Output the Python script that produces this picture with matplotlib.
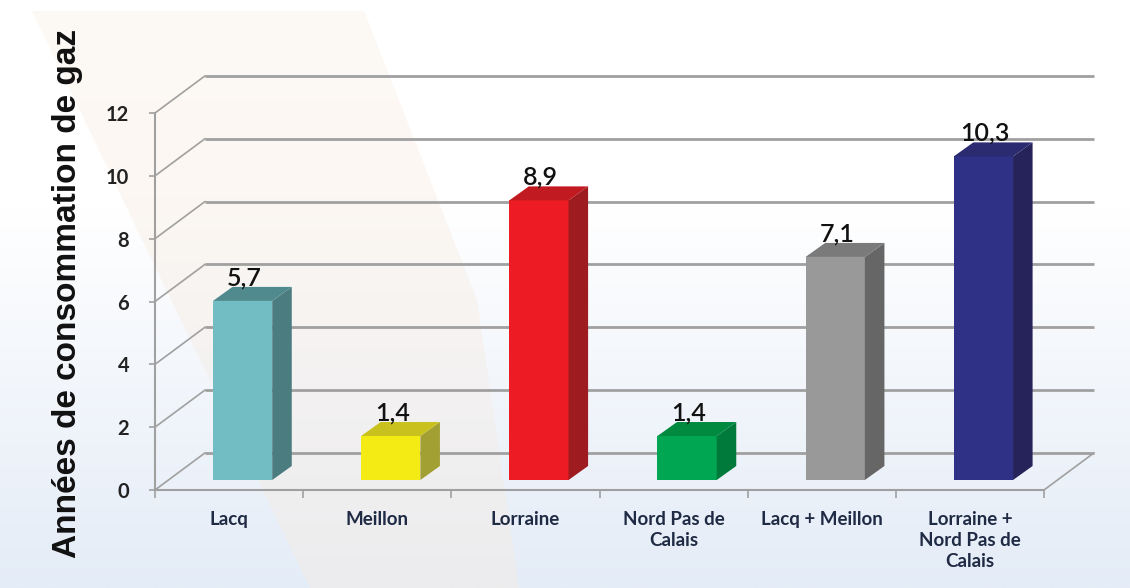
import numpy as np
import matplotlib
matplotlib.use("Agg")
import matplotlib.pyplot as plt
from matplotlib.patches import Polygon
from matplotlib.colors import LinearSegmentedColormap

# data
categories = ["Lacq", "Meillon", "Lorraine", "Nord Pas de\nCalais",
              "Lacq + Meillon", "Lorraine +\nNord Pas de\nCalais"]
values = [5.7, 1.4, 8.9, 1.4, 7.1, 10.3]
value_labels = ["5,7", "1,4", "8,9", "1,4", "7,1", "10,3"]
yticks = [0, 2, 4, 6, 8, 10, 12]

front_cols = ["#72bcc4", "#f5eb14", "#ed1c24", "#00a651", "#999999", "#2e3185"]
side_cols = ["#4a7c80", "#a3a033", "#9e1b20", "#007a3a", "#666666", "#25235a"]
top_cols = ["#508a8e", "#c9c21e", "#c21a21", "#008a40", "#7a7a7a", "#2b2b72"]

# fake 3d geometry (data units)
DX, DY = 0.337, 1.18        # full wall depth
fdx, fdy = 0.091, 0.318     # bar front face offset
bdx, bdy = 0.132, 0.446     # bar depth
bw = 0.4
grid_c = "#a0a0a0"

fig = plt.figure(figsize=(11.3, 5.88), dpi=100)

# background
bg = fig.add_axes([0, 0, 1, 1], zorder=0)
bg.set_xlim(0, 1130)
bg.set_ylim(588, 0)
bg.axis("off")
grad = np.linspace(0, 1, 300)[:, None]
grad = np.clip((grad - 0.35) / 0.65, 0, 1)
cm_bg = LinearSegmentedColormap.from_list("bg", ["#ffffff", "#e4ecf7"])
bg.imshow(grad, cmap=cm_bg, extent=[0, 1130, 588, 0], aspect="auto")
band = Polygon([(32, 11), (364, 11), (477, 300), (519, 588), (310, 588)],
               closed=True, facecolor="none", edgecolor="none")
bg.add_patch(band)
cm_band = LinearSegmentedColormap.from_list("band", ["#fdf9f4", "#fcf7f2", "#f3f1f1", "#ececee"])
im = bg.imshow(np.linspace(0, 1, 300)[:, None], cmap=cm_band,
               extent=[0, 1130, 588, 0], aspect="auto")
im.set_clip_path(band)

ax = fig.add_axes([155 / 1130, 98 / 588, 889 / 1130, 377 / 588], zorder=1)
ax.set_facecolor("none")
ax.set_xlim(-0.5, 5.5)
ax.set_ylim(0, 12)

x = np.arange(len(categories))
x0, x1 = -0.5, len(categories) - 0.5

# walls / gridlines
for yv in yticks:
    ax.plot([x0 + DX, x1 + DX], [yv + DY, yv + DY], color=grid_c, lw=2.0,
            clip_on=False, zorder=1, solid_capstyle="butt")
    ax.plot([x0, x0 + DX], [yv, yv + DY], color=grid_c, lw=1.2,
            clip_on=False, zorder=1)
ax.plot([x1, x1 + DX], [0, DY], color=grid_c, lw=1.2, clip_on=False, zorder=1)

# bars
ax.bar(x + fdx, values, width=bw, bottom=fdy, color=front_cols, zorder=3,
       linewidth=0)
for i, v in enumerate(values):
    xl = x[i] + fdx - bw / 2
    xr = x[i] + fdx + bw / 2
    side = Polygon([(xr, fdy), (xr + bdx, fdy + bdy), (xr + bdx, fdy + bdy + v),
                    (xr, fdy + v)], closed=True, facecolor=side_cols[i],
                   edgecolor="none", zorder=3)
    top = Polygon([(xl, fdy + v), (xl + bdx, fdy + v + bdy),
                   (xr + bdx, fdy + v + bdy), (xr, fdy + v)], closed=True,
                  facecolor=top_cols[i], edgecolor="none", zorder=3)
    ax.add_patch(side)
    ax.add_patch(top)
    ax.text(x[i] + fdx + 0.01, fdy + v + bdy + 0.06, value_labels[i], ha="center",
            va="baseline", fontsize=18, family="Lato", fontweight="semibold",
            color="#111111", zorder=4)

# axes styling
for s in ["top", "right"]:
    ax.spines[s].set_visible(False)
for s in ["left", "bottom"]:
    ax.spines[s].set_color(grid_c)
    ax.spines[s].set_linewidth(1.5)
    ax.spines[s].set_zorder(2)

ax.set_yticks(yticks)
ax.set_yticklabels([str(t) for t in yticks], fontsize=14.5, fontweight="bold",
                   family="Lato", color="#222222")
ax.tick_params(axis="y", length=4.5, width=1.2, color=grid_c, pad=14)

ax.set_xticks(np.arange(-0.5, len(categories), 1.0))
ax.set_xticklabels([])
ax.tick_params(axis="x", which="major", length=6, width=1.2, color=grid_c)
ax.set_xticks(x, minor=True)
ax.set_xticklabels(categories, minor=True, fontsize=13.5, fontweight="bold",
                   family="Lato", color="#1f2a44", linespacing=1.3)
ax.tick_params(axis="x", which="minor", length=0, pad=15)

fig.text(68 / 1130, 1 - 293 / 588, "Années de consommation de gaz", rotation=90,
         ha="center", va="center", fontsize=24, fontweight="bold",
         family="Liberation Sans", color="#111111")

fig.savefig("out.png", dpi=100)
